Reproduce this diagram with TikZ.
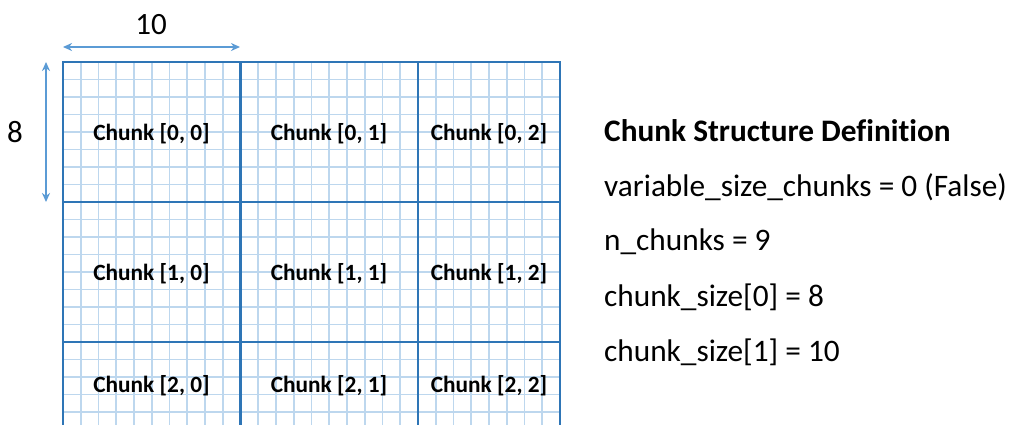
\documentclass[tikz,border=0pt]{standalone}
\usepackage{fontspec}
\setmainfont[Ligatures=NoCommon]{Carlito}
\usetikzlibrary{arrows.meta}
\definecolor{thinblue}{RGB}{189,215,238}
\definecolor{thickblue}{RGB}{46,117,182}
\definecolor{arrowblue}{RGB}{91,155,213}
\tikzset{
  thinline/.style={draw=thinblue, line width=1.6pt},
  thickline/.style={draw=thickblue, line width=2.6pt},
  dimarrow/.style={draw=arrowblue, line width=1.5pt, {Stealth[length=9pt,width=8pt]}-{Stealth[length=9pt,width=8pt]}},
  chunklabel/.style={font=\fontsize{23.3}{26}\selectfont\bfseries, inner sep=1pt},
  deftext/.style={font=\fontsize{31.3}{36}\selectfont, anchor=west, inner sep=0pt},
  dimlabel/.style={font=\fontsize{31}{36}\selectfont, inner sep=0pt}
}
\begin{document}
\begin{tikzpicture}[x=1pt,y=-1pt]
\useasboundingbox (0,0) rectangle (1009,425);
\fill[white] (0,0) rectangle (1009,425);
% thin grid lines
\foreach \k in {1,...,27} {
  \draw[thinline] ({63+\k*17.75},62) -- ({63+\k*17.75},425);
}
\foreach \k in {1,...,20} {
  \draw[thinline] (63,{62+\k*17.5}) -- (560,{62+\k*17.5});
}
% thick chunk lines
\draw[thickline] (63,425) -- (63,62) -- (560,62) -- (560,425);
\draw[thickline] (240.5,62) -- (240.5,425);
\draw[thickline] (418,62) -- (418,425);
\draw[thickline] (63,202) -- (560,202);
\draw[thickline] (63,342) -- (560,342);
% chunk labels
\node[chunklabel] (c00) at (151.5,133.5) {Chunk [0, 0]};
\node[chunklabel] (c01) at (329,133.5) {Chunk [0, 1]};
\node[chunklabel] (c02) at (489,133.5) {Chunk [0, 2]};
\node[chunklabel] (c10) at (151.5,273.5) {Chunk [1, 0]};
\node[chunklabel] (c11) at (329,273.5) {Chunk [1, 1]};
\node[chunklabel] (c12) at (489,273.5) {Chunk [1, 2]};
\node[chunklabel] (c20) at (151.5,385.5) {Chunk [2, 0]};
\node[chunklabel] (c21) at (329,385.5) {Chunk [2, 1]};
\node[chunklabel] (c22) at (489,385.5) {Chunk [2, 2]};
% dimension arrows
\coordinate (hl) at (63,47);
\coordinate (hr) at (240,47);
\coordinate (vt) at (46,62);
\coordinate (vb) at (46,202);
\draw[dimarrow] (hl) -- (hr);
\draw[dimarrow] (vt) -- (vb);
\node[dimlabel] (ten) at (151,25) {10};
\node[dimlabel] (eight) at (15,132) {8};
% definition text
\node[deftext, font=\fontsize{31.3}{36}\selectfont\bfseries] (title) at (604,131) {Chunk Structure Definition};
\node[deftext] (d1) at (604,187) {variable\_size\_chunks = 0 (False)};
\node[deftext] (d2) at (604,242) {n\_chunks = 9};
\node[deftext] (d3) at (604,297) {chunk\_size[0] = 8};
\node[deftext] (d4) at (604,352) {chunk\_size[1] = 10};
\end{tikzpicture}
\end{document}
